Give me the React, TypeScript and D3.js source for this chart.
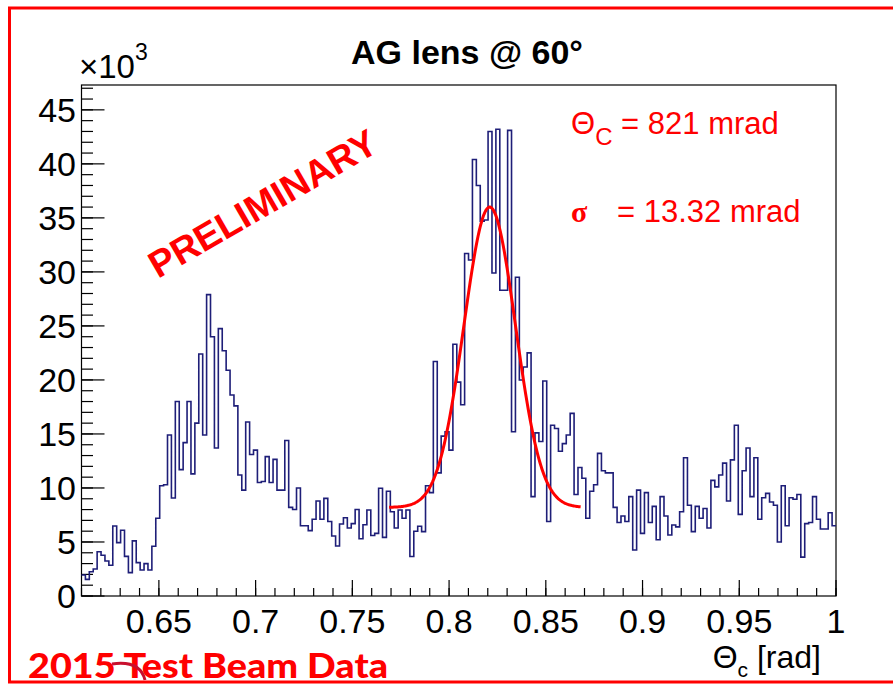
import React from "react";
import * as d3 from "d3";

// ---------- data (counts in units of 10^3) ----------
const X_MIN = 0.61;
const X_MAX = 1.0;
const Y_MAX = 47.3;

const countsA = [
  1.94, 1.54, 2.25, 2.5, 4.1, 3.77, 3.24, 2.84, 6.48, 4.94,
  6.08, 3.67, 2.16, 5.1, 3.09, 2.4, 3.0, 2.4, 4.6, 7.2,
  10.2, 10.3, 14.9, 9.07, 18.0, 11.7, 14.2, 18.0, 11.3, 16.0,
  22.4, 14.9, 27.9, 24.0, 13.7, 24.75, 22.7, 20.9, 18.6, 17.6,
  11.2, 9.8, 16.1, 13.1, 13.5, 10.5, 10.6, 12.9, 10.5,
];
const countsB = [
  12.65, 9.8, 9.8, 14.4, 8.2, 8.0, 10.0, 6.5, 6.5, 6.05,
  7.1, 8.8, 7.1, 9.04, 6.9, 5.56, 4.63, 6.67, 7.25, 6.3,
  6.7, 8.0, 5.3, 6.6, 7.96, 5.6, 5.8, 9.97, 5.43, 9.7,
  7.8, 6.3, 7.96, 7.2, 7.96, 3.65, 6.0, 6.45, 5.96, 10.2,
  9.57,
];
const countsC = [
  21.7, 11.4, 14.8, 15.2, 13.5, 23.3, 19.8, 17.7, 31.7, 31.1,
  40.4, 38.0, 34.7, 34.8, 43.0, 29.9, 43.2, 28.3, 28.3, 43.1,
  15.2, 29.5, 20.0, 21.2, 22.5, 9.2, 15.1, 14.3, 19.9, 6.9,
  15.8, 15.5, 13.4, 14.1, 14.9, 16.9, 9.4, 11.9, 10.9, 7.2,
];
const countsD = [
  9.7, 10.3, 13.2, 11.6, 11.4, 11.4, 8.2, 6.8, 7.4, 6.9,
  9.2, 4.26, 9.8, 5.8, 9.57, 6.8, 8.3, 5.2, 9.2, 7.4,
  5.65, 6.57, 6.4, 7.8, 12.8, 8.4, 5.96, 8.3, 7.2, 8.1,
  6.3, 10.7, 10.1, 11.2, 12.3, 8.8, 12.6, 15.8, 7.56, 11.6,
  13.7, 9.2, 12.8, 7.1, 9.1, 9.5, 8.7, 8.4, 5.0, 10.2,
  6.5, 9.1, 8.95, 9.4, 3.6, 6.7, 6.8, 9.2, 7.1, 6.2,
  6.2, 7.7, 6.5,
];
const counts = [...countsA, ...countsB, ...countsC, ...countsD];

// Gaussian + constant fit parameters
const FIT_CONST = 8.2;
const FIT_AMP = 27.8;
const FIT_MEAN = 0.821;
const FIT_SIGMA = 0.01332;
const FIT_LO = 0.769;
const FIT_HI = 0.868;

const xMajorTicks = [0.65, 0.7, 0.75, 0.8, 0.85, 0.9, 0.95, 1.0];
const xTickLabels = ["0.65", "0.7", "0.75", "0.8", "0.85", "0.9", "0.95", "1"];
const yMajorTicks = [0, 5, 10, 15, 20, 25, 30, 35, 40, 45];

// ---------- layout ----------
const W = 893;
const H = 685;
const L = 81.5;
const R = 836;
const T = 85;
const B = 596;

export default function App() {
  const x = d3.scaleLinear().domain([X_MIN, X_MAX]).range([L, R]);
  const y = d3.scaleLinear().domain([0, Y_MAX]).range([B, T]);

  const bw = (X_MAX - X_MIN) / counts.length;
  const pts: [number, number][] = counts.map((c, i) => [X_MIN + i * bw, c]);
  pts.push([X_MAX, counts[counts.length - 1]]);
  const histPath = d3
    .line<[number, number]>()
    .x((d) => x(d[0]))
    .y((d) => y(d[1]))
    .curve(d3.curveStepAfter)(pts) as string;

  const fitXs = d3.range(FIT_LO, FIT_HI + 1e-9, 0.0005);
  const fitPath = d3
    .line<number>()
    .x((v) => x(v))
    .y((v) => y(FIT_CONST + FIT_AMP * Math.exp(-((v - FIT_MEAN) ** 2) / (2 * FIT_SIGMA * FIT_SIGMA))))
    .curve(d3.curveLinear)(fitXs) as string;

  const xMinor = d3.range(0, 40).map((i) => 0.61 + i * 0.01).filter((v) => v <= 1.0001);
  const yMinor = d3.range(0, 48).filter((v) => v <= Y_MAX);

  const font = "'Liberation Sans', Arial, Helvetica, sans-serif";
  const red = "#ff0000";

  return (
    <svg
      width={W}
      height={H}
      style={{ position: "absolute", left: 0, top: 0, background: "#fff" }}
      xmlns="http://www.w3.org/2000/svg"
    >
      <rect x={0} y={0} width={W} height={H} fill="#fff" />
      {/* red outer border */}
      <path d={`M ${W + 5} 8 L 9.5 8 L 9.5 ${H - 3} L ${W + 5} ${H - 3}`} fill="none" stroke={red} strokeWidth={3} />

      {/* title */}
      <text x={467} y={64} textAnchor="middle" fontFamily={font} fontWeight="bold" fontSize={34} fill="#000">
        AG lens @ 60°
      </text>

      {/* x10^3 */}
      <text x={79} y={78} fontFamily={font} fontSize={33} fill="#000">
        ×10
        <tspan dy={-18} fontSize={23}>3</tspan>
      </text>

      {/* frame */}
      <rect x={L} y={T} width={R - L} height={B - T} fill="none" stroke="#000" strokeWidth={1.2} />

      {/* y ticks */}
      {yMinor.map((v) => (
        <line key={"ym" + v} x1={L} x2={L + 11.5} y1={y(v)} y2={y(v)} stroke="#000" strokeWidth={1.2} />
      ))}
      {yMajorTicks.map((v) => (
        <line key={"yM" + v} x1={L} x2={L + 23} y1={y(v)} y2={y(v)} stroke="#000" strokeWidth={1.2} />
      ))}
      {yMajorTicks.map((v) => (
        <text key={"yl" + v} x={76} y={y(v) + 12} textAnchor="end" fontFamily={font} fontSize={34} fill="#000">
          {String(v)}
        </text>
      ))}

      {/* x ticks */}
      {xMinor.map((v, i) => (
        <line key={"xm" + i} x1={x(v)} x2={x(v)} y1={B} y2={B - 8} stroke="#000" strokeWidth={1.2} />
      ))}
      {xMajorTicks.map((v) => (
        <line key={"xM" + v} x1={x(v)} x2={x(v)} y1={B} y2={B - 16} stroke="#000" strokeWidth={1.2} />
      ))}
      {xMajorTicks.map((v, i) => (
        <text key={"xl" + v} x={x(v)} y={633} textAnchor="middle" fontFamily={font} fontSize={34} fill="#000">
          {xTickLabels[i]}
        </text>
      ))}

      {/* x axis title */}
      <text x={821} y={668} textAnchor="end" fontFamily={font} fontSize={32} fill="#000">
        Θ<tspan dy={9} fontSize={21}>c</tspan>
        <tspan dy={-9}> [rad]</tspan>
      </text>

      {/* histogram */}
      <path d={histPath} fill="none" stroke="#1e1e78" strokeWidth={1.6} />

      {/* fit */}
      <path d={fitPath} fill="none" stroke={red} strokeWidth={3} strokeLinejoin="round" />

      {/* annotations */}
      <text x={571} y={134} fontFamily={font} fontSize={31} fill={red}>
        Θ<tspan dy={11} fontSize={24}>C</tspan>
        <tspan dy={-11}> = 821 mrad</tspan>
      </text>
      <text x={571} y={222} fontFamily="'Liberation Serif', 'DejaVu Serif', serif" fontWeight="bold" fontSize={30} fill={red}>
        σ
      </text>
      <text x={617} y={222} fontFamily={font} fontSize={31} fill={red}>
        = 13.32 mrad
      </text>

      <text
        x={158}
        y={279}
        transform="rotate(-30 158 279)"
        fontFamily={font}
        fontWeight="bold"
        fontSize={37.5}
        fill={red}
      >
        PRELIMINARY
      </text>

      {/* footer */}
      <text
        x={28}
        y={678}
        fontFamily="Lato, 'Liberation Sans', sans-serif"
        fontWeight={900}
        fontSize={34}
        fill={red}
        textLength={360}
        lengthAdjust="spacingAndGlyphs"
      >
        2015 Test Beam Data
      </text>
      <path d="M 112 664 Q 140 660 145 680" fill="none" stroke="#c8102e" strokeWidth={3} />
    </svg>
  );
}
